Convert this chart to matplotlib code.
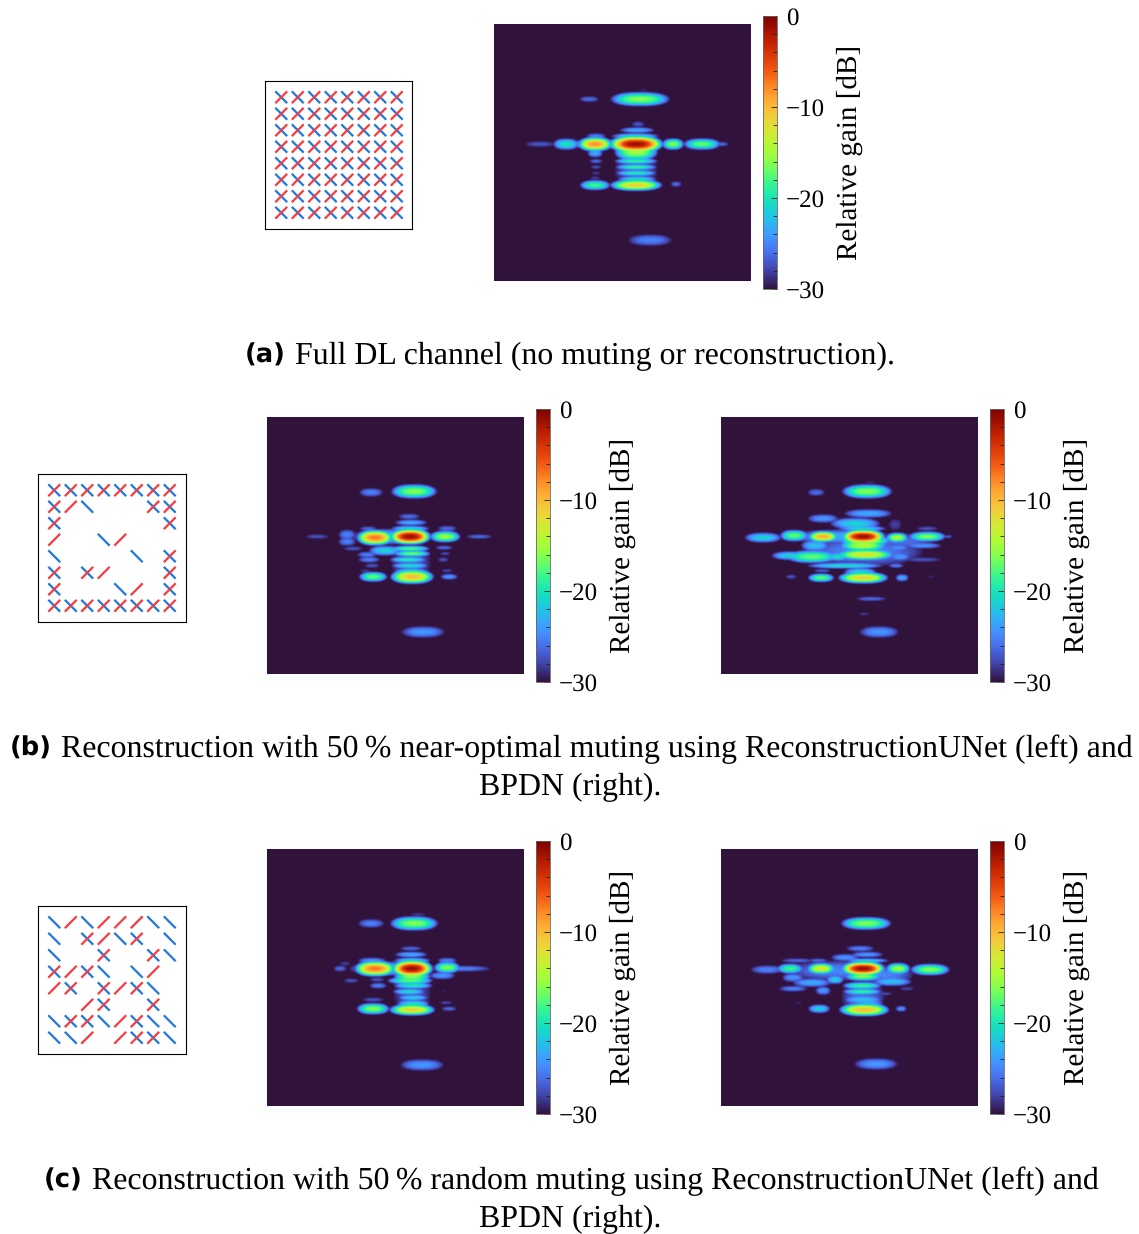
import numpy as np
import matplotlib
matplotlib.use('Agg')
import matplotlib.pyplot as plt
from matplotlib.ticker import MultipleLocator, FuncFormatter

W, H = 1139, 1234
plt.rcParams['font.family'] = ['Liberation Serif', 'DejaVu Serif']
plt.rcParams['text.hinting'] = 'no_hinting'

# antenna patterns: X both polarisations, / red only, \ blue only, . muted
pattern_full = ["XXXXXXXX"] * 8
pattern_opt = ["XXXXXXXX",
               "X/\\...XX",
               "X......X",
               "/..\\/...",
               "\\....\\.X",
               "X.X/...X",
               "X...\\/.X",
               "XXXXXXXX"]
pattern_rand = ["\\/\\///\\\\",
                "\\.X/\\X.\\",
                "\\..X..X\\",
                "X/X\\.\\/.",
                "/X.X/X\\.",
                "../X..X.",
                "\\XX\\/X\\\\",
                "\\\\/./XX\\"]

# lobes: x, y, half width, half height, peak dB
lobes_full = [(146, 75, 27, 5, -16), (95, 75, 9, 2, -26), (149, 66, 3, 1, -29),
              (144, 100, 6, 2, -27), (143, 106, 16, 2, -23), (141, 112, 22, 2, -21),
              (142, 120, 25, 6, -1), (142, 128, 20, 6, -15), (101, 120, 16, 5, -8),
              (72, 120, 12, 4, -20), (46, 120, 14, 2, -27), (179, 120, 10, 4, -16),
              (208, 120, 17, 4, -17), (228, 120, 6, 1.5, -26), (102, 112, 9, 2, -25),
              (101, 129, 7, 3, -23), (102, 137, 6, 1.5, -26), (102, 143, 5, 1.2, -27),
              (102, 149, 4, 1.2, -28), (101, 154, 5, 1.2, -28), (142, 137, 20, 2, -18),
              (142, 143, 19, 2, -18), (142, 149, 19, 2, -19), (143, 155, 18, 2, -20),
              (142, 161, 24, 4, -11), (101, 161, 14, 3.5, -18), (182, 160, 5, 2, -26),
              (156, 216, 20, 4, -25), (115, 120, 45, 3.5, -23), (142, 146, 20, 13, -27)]

lobes_opt_unet = [(147, 75, 21, 5, -16), (104, 76, 11, 3, -25), (142, 100, 10, 2, -26),
                  (144, 106, 15, 2, -23), (143, 112, 18, 2, -21), (143, 120, 19, 5.5, -1),
                  (108, 121, 17, 5.5, -7), (80, 118, 8, 3.5, -25), (80, 125, 8, 3, -25),
                  (101, 112, 8, 1.5, -26), (178, 120, 14, 4, -15), (180, 112, 9, 2, -26),
                  (50, 120, 11, 1.5, -27), (212, 120, 12, 1.5, -26), (86, 132, 9, 1.5, -27),
                  (143, 132, 18, 2, -17), (118, 134, 15, 3.5, -21), (145, 137, 17, 2, -16),
                  (100, 138, 9, 2, -25), (102, 143, 10, 2, -25), (141, 143, 17, 2, -19),
                  (105, 149, 7, 1.5, -27), (143, 149, 17, 2, -20), (144, 155, 16, 2.5, -20),
                  (98, 154, 5, 1, -28), (145, 160, 20, 5, -10), (106, 160, 13, 3.5, -17),
                  (177, 131, 8, 1.5, -26), (178, 137, 5, 1, -27), (176, 143, 5, 1.5, -27),
                  (180, 154, 5, 1, -27), (182, 160, 8, 2, -24), (156, 215, 20, 4, -24),
                  (126, 120, 38, 5.5, -22), (144, 146, 18, 15, -27)]

lobes_opt_bpdn = [(146, 75, 23, 5, -16), (95, 76, 8, 2.5, -26), (149, 66, 5, 1, -29),
                  (147, 97, 22, 3, -23), (102, 102, 14, 3, -24), (134, 107, 23, 4, -21),
                  (141, 112, 22, 2, -21), (174, 108, 6, 4, -28), (206, 112, 10, 1.5, -27),
                  (142, 120, 20, 5, -1), (144, 124, 24, 4, -14), (102, 120, 14, 4, -9),
                  (73, 119, 13, 4, -17), (42, 121, 17, 3.5, -21), (176, 121, 10, 3.5, -14),
                  (206, 120, 17, 3.5, -16), (227, 120, 4, 1, -26), (142, 129, 22, 4, -14),
                  (94, 129, 13, 4, -22), (202, 129, 17, 2, -24), (177, 131, 10, 2, -24),
                  (144, 138, 27, 4, -12), (91, 140, 24, 4.5, -17), (69, 139, 17, 3, -21),
                  (117, 140, 10, 3, -20), (179, 140, 10, 3, -24), (202, 143, 17, 1.5, -27),
                  (124, 149, 35, 2, -20), (175, 149, 7, 1.5, -25), (101, 154, 8, 1, -26),
                  (139, 155, 15, 2.5, -21), (142, 161, 23, 4, -11), (100, 161, 12, 3, -17),
                  (181, 161, 6, 2.5, -23), (70, 160, 5, 1.5, -27), (210, 160, 4, 1, -29),
                  (150, 182, 14, 1.5, -26), (143, 197, 5, 1, -28), (158, 215, 18, 4, -24),
                  (142, 135, 55, 10, -25), (120, 120, 45, 5, -23), (180, 125, 30, 6, -26)]

lobes_rand_unet = [(147, 75, 22, 5, -16), (104, 75, 12, 3, -25), (151, 66, 7, 1, -28),
                   (144, 100, 10, 1.5, -26), (144, 106, 15, 2, -23), (145, 112, 17, 2, -21),
                   (105, 112, 13, 2, -24), (180, 112, 9, 2, -25), (145, 120, 19, 6, -1),
                   (108, 120, 19, 5.5, -7), (180, 119, 12, 4, -16), (196, 120, 25, 2, -25),
                   (73, 120, 6, 2, -26), (78, 115, 5, 1.5, -28), (145, 128, 17, 4, -16),
                   (175, 127, 12, 2.5, -24), (84, 132, 7, 1.5, -27), (110, 131, 7, 1.5, -27),
                   (143, 132, 21, 2.5, -17), (111, 137, 8, 2, -25), (146, 137, 18, 2, -19),
                   (142, 143, 15, 2, -20), (146, 149, 14, 2, -21), (146, 155, 15, 2.5, -20),
                   (106, 151, 10, 1.5, -27), (179, 154, 6, 1, -27), (145, 161, 21, 4, -11),
                   (106, 160, 15, 4, -16), (182, 160, 7, 1.5, -26), (155, 216, 20, 4, -24),
                   (176, 143, 2, 1, -29), (126, 120, 40, 5, -22), (145, 146, 17, 14, -27)]

lobes_rand_bpdn = [(145, 75, 23, 4.5, -16), (139, 100, 13, 2, -25), (146, 106, 15, 2, -24),
                   (124, 109, 13, 2.5, -24), (146, 112, 20, 1.5, -21), (76, 112, 15, 1.5, -26),
                   (97, 112, 9, 1.5, -26), (142, 120, 20, 5, -1), (100, 120, 13, 4, -12),
                   (69, 120, 12, 3.5, -18), (46, 121, 15, 3, -25), (177, 120, 11, 4, -15),
                   (209, 121, 18, 4, -16), (142, 128, 17, 3, -16), (72, 129, 10, 3, -24),
                   (91, 134, 18, 3, -23), (114, 131, 8, 3, -21), (141, 137, 18, 2.5, -18),
                   (171, 133, 18, 3, -22), (72, 140, 13, 2, -25), (102, 142, 7, 3, -24),
                   (141, 143, 18, 2, -18), (164, 145, 7, 1, -27), (186, 140, 7, 1.5, -28),
                   (142, 151, 18, 3, -22), (147, 155, 14, 3, -23), (77, 154, 4, 1, -29),
                   (143, 161, 23, 4.5, -10), (98, 160, 10, 3, -21), (180, 160, 5, 2, -24),
                   (155, 215, 20, 4, -24), (120, 122, 50, 7, -25), (142, 148, 20, 12, -26),
                   (160, 126, 30, 6, -25)]

cbar_ticks = [0, -10, -20, -30]


def px_axes(fig, x0, y0, x1, y1):
    return fig.add_axes([x0 / W, 1 - y1 / H, (x1 - x0) / W, (y1 - y0) / H])


def gain_map(lobes):
    xs = np.arange(0, 257, 0.25)
    xx, yy = np.meshgrid(xs, xs)
    field = np.zeros(xx.shape)
    for x, y, hw, hh, peak in lobes:
        r = np.abs((xx - x) / (hw * 1.12)) ** 2.5 + np.abs((yy - y) / (hh * 1.5)) ** 2
        # height above the -30 dB floor
        field = np.maximum(field, (30 + peak) * (1 - r))
    # soften a little, the picture is an upsampled beam grid
    kernel = np.hanning(15)
    kernel = kernel / kernel.sum()
    field = np.apply_along_axis(np.convolve, 0, field, kernel, mode='same')
    field = np.apply_along_axis(np.convolve, 1, field, kernel, mode='same')
    return field - 30


def draw_array(fig, pattern, x0, y0):
    ax = px_axes(fig, x0, y0, x0 + 147.5, y0 + 148)
    half = 0.36
    for r, row in enumerate(pattern):
        for c, ch in enumerate(row):
            if ch in 'X\\':
                ax.plot([c - half, c + half], [r - half, r + half], color='#1f78dc', lw=1.6, solid_capstyle='butt')
        for c, ch in enumerate(row):
            if ch in 'X/':
                ax.plot([c - half, c + half], [r + half, r - half], color='#f93a3f', lw=1.6, solid_capstyle='butt')
    ax.set_xlim(-0.985, 7.955)
    ax.set_ylim(7.985, -0.985)
    ax.set_xticks([])
    ax.set_yticks([])
    for s in ax.spines.values():
        s.set_linewidth(0.8)


def draw_map(fig, lobes, x0, y0):
    ax = px_axes(fig, x0, y0, x0 + 257, y0 + 257)
    im = ax.imshow(gain_map(lobes), cmap='turbo', vmin=-30, vmax=0, extent=[0, 257, 257, 0],
                   interpolation='bilinear', aspect='auto')
    ax.axis('off')

    cax = px_axes(fig, x0 + 269, y0 - 8, x0 + 283, y0 + 265)
    cb = fig.colorbar(im, cax=cax)
    cb.set_ticks(cbar_ticks)
    cax.yaxis.set_minor_locator(MultipleLocator(2))
    cax.yaxis.set_major_formatter(FuncFormatter(lambda v, p: f"{v:.0f}".replace('-', '\u2212')))
    cax.tick_params(axis='y', which='major', direction='in', length=4, width=0.6, labelsize=18, pad=6.5, color='#222222')
    cax.tick_params(axis='y', which='minor', direction='in', length=3, width=0.6, color='#222222')
    cb.outline.set_linewidth(0.6)
    cb.outline.set_edgecolor('#666666')
    cb.set_label('Relative gain [dB]', fontsize=21, labelpad=8)


def caption(fig, tag, x_tag, x_text, y, text):
    fig.text(x_tag / W, 1 - (y + 1) / H, tag, fontsize=18.5, fontweight='bold', family='DejaVu Sans', va='center', ha='left')
    fig.text(x_text / W, 1 - (y + 2) / H, text, fontsize=22.97, va='center', ha='left')


fig = plt.figure(figsize=(W / 100, H / 100), dpi=100)

draw_array(fig, pattern_full, 265, 81)
draw_map(fig, lobes_full, 494, 24)
caption(fig, '(a)', 245, 295, 354, 'Full DL channel (no muting or reconstruction).')

draw_array(fig, pattern_opt, 38, 474)
draw_map(fig, lobes_opt_unet, 267, 417)
draw_map(fig, lobes_opt_bpdn, 721, 417)
caption(fig, '(b)', 10, 61, 747, 'Reconstruction with 50\u2009% near-optimal muting using ReconstructionUNet (left) and')
fig.text(570 / W, 1 - 787 / H, 'BPDN (right).', fontsize=22.97, va='center', ha='center')

draw_array(fig, pattern_rand, 38, 906)
draw_map(fig, lobes_rand_unet, 267, 849)
draw_map(fig, lobes_rand_bpdn, 721, 849)
caption(fig, '(c)', 44, 92, 1179, 'Reconstruction with 50\u2009% random muting using ReconstructionUNet (left) and')
fig.text(570 / W, 1 - 1219 / H, 'BPDN (right).', fontsize=22.97, va='center', ha='center')

fig.savefig('out.png', dpi=100)
